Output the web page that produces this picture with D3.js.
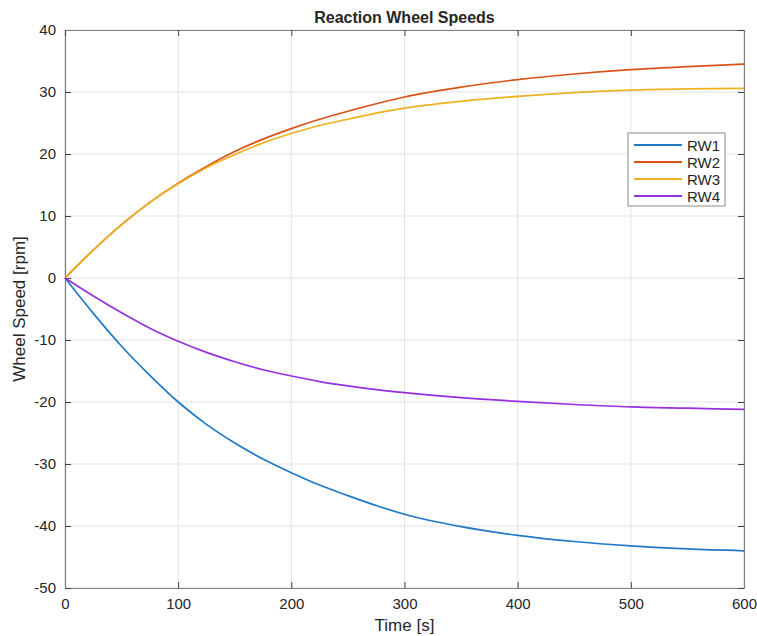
<!DOCTYPE html>
<html>
<head>
<meta charset="utf-8">
<script src="https://cdn.jsdelivr.net/npm/d3@7"></script>
<style>
  body { margin: 0; background: #fff; }
  text { font-family: "Liberation Sans", Arial, sans-serif; fill: #262626; }
</style>
</head>
<body>
<svg width="757" height="636"></svg>
<script>
// values
var time = [0, 25, 50, 75, 100, 125, 150, 175, 200, 225, 250, 275, 300, 350, 400, 450, 500, 550, 600];
var rw1 = [0, -5.7, -11.0, -15.7, -20.0, -23.6, -26.6, -29.2, -31.4, -33.4, -35.1, -36.7, -38.1, -40.1, -41.5, -42.5, -43.2, -43.7, -44.0];
var rw2 = [0, 4.5, 8.6, 12.2, 15.3, 18.0, 20.4, 22.4, 24.1, 25.6, 26.9, 28.1, 29.2, 30.8, 32.0, 32.9, 33.6, 34.1, 34.5];
var rw3 = [0, 4.5, 8.6, 12.2, 15.2, 17.8, 19.9, 21.8, 23.3, 24.6, 25.6, 26.6, 27.4, 28.5, 29.3, 29.9, 30.3, 30.5, 30.6];
var rw4 = [0, -2.9, -5.6, -8.1, -10.2, -12.0, -13.5, -14.8, -15.8, -16.7, -17.4, -18.0, -18.5, -19.3, -19.9, -20.4, -20.8, -21.0, -21.2];
var names = ["RW1", "RW2", "RW3", "RW4"];
var colors = ["#1F78C8", "#D95319", "#EDB120", "#9630E0"];
var xTicks = [0, 100, 200, 300, 400, 500, 600];
var yTicks = [-50, -40, -30, -20, -10, 0, 10, 20, 30, 40];

var svg = d3.select("svg");
var padL = 65, padR = 744, padT = 30, padB = 588;

var x = d3.scaleLinear().domain([0, 600]).range([padL, padR]);
var y = d3.scaleLinear().domain([-50, 40]).range([padB, padT]);

// grid
svg.append("g").selectAll("line").data(xTicks).join("line")
  .attr("x1", d => x(d)).attr("x2", d => x(d))
  .attr("y1", padT).attr("y2", padB)
  .attr("stroke", "#e3e3e3").attr("stroke-width", 1);
svg.append("g").selectAll("line").data(yTicks).join("line")
  .attr("x1", padL).attr("x2", padR)
  .attr("y1", d => y(d)).attr("y2", d => y(d))
  .attr("stroke", "#e3e3e3").attr("stroke-width", 1);

// axes (plain hyphen for negatives, like the reference)
var fmt = d => String(d);
var xAxis = svg.append("g").attr("transform", "translate(0," + padB + ")")
  .call(d3.axisBottom(x).tickValues(xTicks).tickFormat(fmt).tickSizeInner(-6).tickSizeOuter(0).tickPadding(10));
var yAxis = svg.append("g").attr("transform", "translate(" + padL + ",0)")
  .call(d3.axisLeft(y).tickValues(yTicks).tickFormat(fmt).tickSizeInner(-6).tickSizeOuter(0).tickPadding(9));
var xTop = svg.append("g").attr("transform", "translate(0," + padT + ")")
  .call(d3.axisTop(x).tickValues(xTicks).tickFormat("").tickSizeInner(-6).tickSizeOuter(0));
var yRight = svg.append("g").attr("transform", "translate(" + padR + ",0)")
  .call(d3.axisRight(y).tickValues(yTicks).tickFormat("").tickSizeInner(-6).tickSizeOuter(0));

[xAxis, yAxis, xTop, yRight].forEach(function(g) {
  g.select(".domain").attr("stroke", "#808080").attr("stroke-width", 1.2);
  g.selectAll(".tick line").attr("stroke", "#404040");
  g.selectAll(".tick text").style("font-size", "15px").attr("fill", "#262626")
    .style("font-family", "Liberation Sans, Arial, sans-serif");
});

// lines
var series = [rw1, rw2, rw3, rw4];
var line = d3.line()
  .x((d, i) => x(time[i]))
  .y(d => y(d))
  .curve(d3.curveMonotoneX);

svg.append("g").selectAll("path").data(series).join("path")
  .attr("d", d => line(d))
  .attr("fill", "none")
  .attr("stroke", (d, i) => colors[i])
  .attr("stroke-width", 1.7);

// titles
svg.append("text").attr("x", (padL + padR) / 2).attr("y", 23)
  .attr("text-anchor", "middle").style("font-size", "16px").style("font-weight", "bold")
  .text("Reaction Wheel Speeds");
svg.append("text").attr("x", (padL + padR) / 2).attr("y", 631)
  .attr("text-anchor", "middle").style("font-size", "17px")
  .text("Time [s]");
svg.append("text").attr("transform", "translate(25," + ((padT + padB) / 2) + ") rotate(-90)")
  .attr("text-anchor", "middle").style("font-size", "17px")
  .text("Wheel Speed [rpm]");

// legend
var legend = svg.append("g").attr("transform", "translate(628,133)");
legend.append("rect").attr("width", 97).attr("height", 73)
  .attr("fill", "#fff").attr("stroke", "#8a8a8a").attr("stroke-width", 1);
var items = legend.selectAll("g").data(names).join("g")
  .attr("transform", (d, i) => "translate(0," + (12 + i * 17) + ")");
items.append("line").attr("x1", 6).attr("x2", 54).attr("y1", 0).attr("y2", 0)
  .attr("stroke", (d, i) => colors[i]).attr("stroke-width", 2);
items.append("text").attr("x", 59).attr("y", 5.5).style("font-size", "15px").text(d => d);
</script>
</body>
</html>
